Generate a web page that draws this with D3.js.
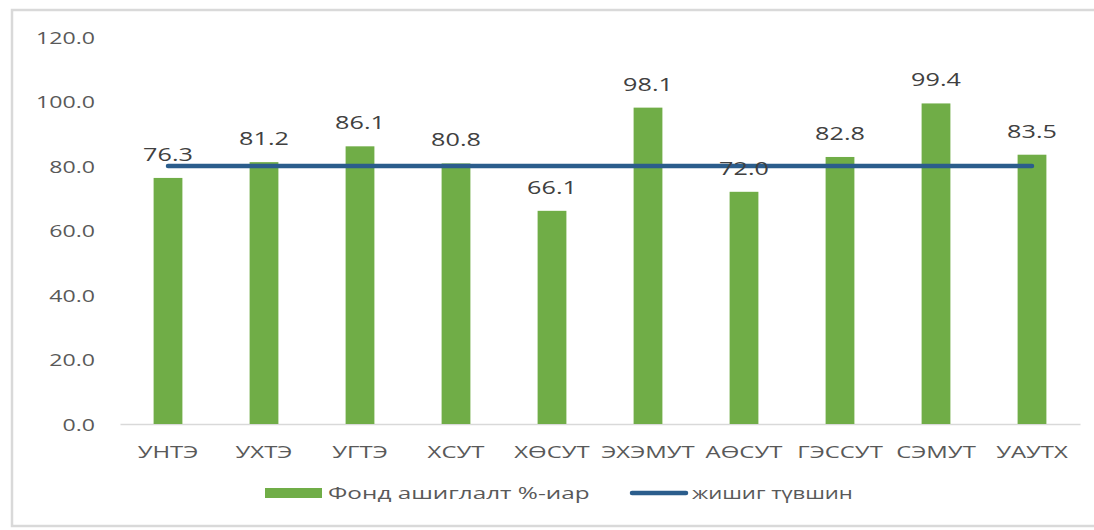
<!DOCTYPE html>
<html>
<head>
<meta charset="utf-8">
<script src="https://cdn.jsdelivr.net/npm/d3@7"></script>
<style>
  html, body { margin: 0; padding: 0; background: #fff; }
  svg { display: block; }
  text { font-family: "Open Sans", "DejaVu Sans", sans-serif; fill: #595959; }
</style>
</head>
<body>
<svg id="chart" width="1094" height="530"></svg>
<script>
const categories = ["УНТЭ", "УХТЭ", "УГТЭ", "ХСУТ", "ХӨСУТ", "ЭХЭМУТ", "АӨСУТ", "ГЭССУТ", "СЭМУТ", "УАУТХ"];
const fundUsage = [76.3, 81.2, 86.1, 80.8, 66.1, 98.1, 72.0, 82.8, 99.4, 83.5];
const benchmark = [80, 80, 80, 80, 80, 80, 80, 80, 80, 80];
const yTicks = [0, 20, 40, 60, 80, 100, 120];
const seriesNames = ["Фонд ашиглалт %-иар", "жишиг түвшин"];

const svg = d3.select("#chart");

// frame
svg.append("rect").attr("x", 12).attr("y", 10).attr("width", 1100).attr("height", 516)
  .attr("fill", "none").attr("stroke", "#d9d9d9").attr("stroke-width", 2.5);

const x = d3.scaleBand().domain(categories).range([120, 1080]).paddingInner(0.7).paddingOuter(0.35);
const y = d3.scaleLinear().domain([0, 120]).range([424, 37]);

function stext(sel, tx, ty, anchor, sx) {
  return sel.append("text")
    .attr("transform", `translate(${tx},${ty}) scale(${sx},1)`)
    .attr("text-anchor", anchor);
}

// y axis labels
const yAxis = d3.axisLeft(y).tickValues(yTicks).tickFormat(d3.format(".1f")).tickSize(0).tickPadding(0);
const yg = svg.append("g").attr("transform", "translate(95,0)").call(yAxis);
yg.select(".domain").remove();
yg.selectAll("text")
  .attr("x", null).attr("dy", null)
  .attr("transform", "translate(0,6) scale(1.36,1)")
  .attr("text-anchor", "end")
  .style("font-size", "17px").style("fill", "#595959")
  .style("font-family", "'Open Sans', 'DejaVu Sans', sans-serif");

// x axis
const xAxis = d3.axisBottom(x).tickSize(0).tickPadding(0);
const xg = svg.append("g").attr("transform", "translate(0,424)").call(xAxis);
xg.select(".domain").attr("stroke", "#d9d9d9").attr("stroke-width", 1.5);
xg.selectAll("text")
  .attr("y", null).attr("dy", null)
  .attr("transform", "translate(0,34) scale(1.45,1)")
  .attr("text-anchor", "middle")
  .style("font-size", "16.5px").style("fill", "#595959")
  .style("font-family", "'Open Sans', 'DejaVu Sans', sans-serif");

// bars
svg.append("g").selectAll("rect").data(fundUsage).join("rect")
  .attr("x", (d, i) => x(categories[i]))
  .attr("width", x.bandwidth())
  .attr("y", d => y(d))
  .attr("height", d => y(0) - y(d))
  .attr("fill", "#70ad47");

// benchmark line
const line = d3.line()
  .x((d, i) => x(categories[i]) + x.bandwidth() / 2)
  .y(d => y(d));
svg.append("path").datum(benchmark).attr("d", line)
  .attr("fill", "none").attr("stroke", "#2b5d8c").attr("stroke-width", 4.5).attr("stroke-linecap", "round");

// bar value labels
const lg = svg.append("g");
fundUsage.forEach((v, i) => {
  stext(lg, x(categories[i]) + x.bandwidth() / 2, y(v) - 17, "middle", 1.4)
    .style("font-size", "18px").style("fill", "#404040")
    .text(d3.format(".1f")(v));
});

// legend
const leg = svg.append("g");
leg.append("rect").attr("x", 265).attr("y", 488).attr("width", 57).attr("height", 10).attr("fill", "#70ad47");
stext(leg, 328, 499, "start", 1.52).style("font-size", "16px").text(seriesNames[0]);
leg.append("line").attr("x1", 632).attr("x2", 686).attr("y1", 493).attr("y2", 493)
  .attr("stroke", "#2b5d8c").attr("stroke-width", 4.5).attr("stroke-linecap", "round");
stext(leg, 692, 499, "start", 1.38).style("font-size", "16px").text(seriesNames[1]);
</script>
</body>
</html>
